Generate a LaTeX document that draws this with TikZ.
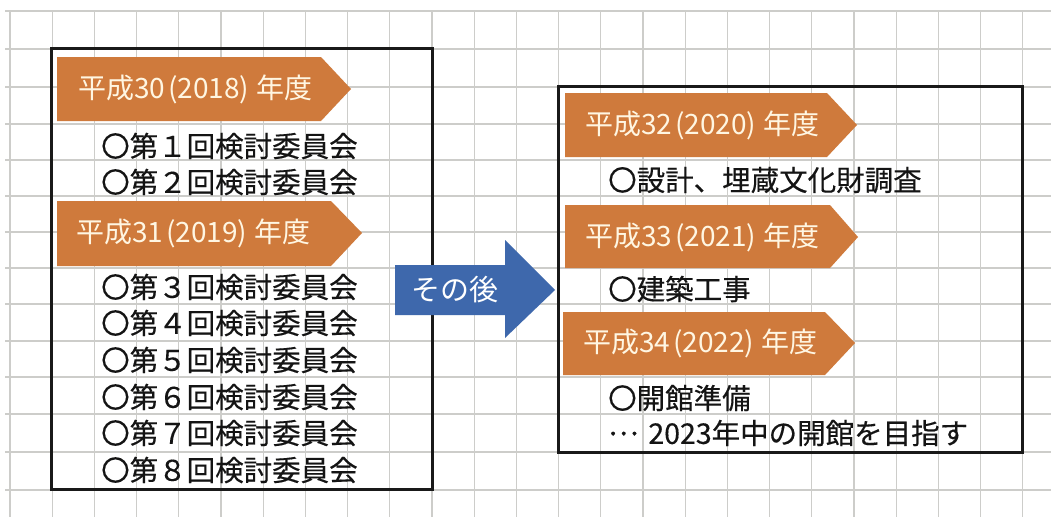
\documentclass[tikz,border=0pt]{standalone}
\usepackage{fontspec}
\setmainfont{Noto Sans CJK JP}
\newfontfamily\itemfont[FakeBold=0.35]{Noto Sans CJK JP}
\definecolor{gridgray}{RGB}{205,205,202}
\definecolor{frameblack}{RGB}{25,25,25}
\definecolor{bannerorange}{RGB}{207,122,60}
\definecolor{bannertxt}{RGB}{255,246,226}
\definecolor{textblack}{RGB}{20,20,20}
\definecolor{arrowblue}{RGB}{62,104,172}
\newcommand{\yr}[2]{平成#1\hspace{3pt}(#2)\hspace{7pt}年度}
\begin{document}
\begin{tikzpicture}[x=1pt,y=-1pt,
  gridline/.style={draw=gridgray, line width=1.3pt},
  framebox/.style={draw=frameblack, line width=3pt},
  banner/.style={fill=bannerorange, draw=none},
  bannertext/.style={anchor=west, inner sep=0pt, text=bannertxt, font=\fontsize{28}{28}\selectfont},
  item/.style={anchor=west, inner sep=0pt, text=textblack, font=\itemfont\fontsize{28.5}{28.5}\selectfont},
  bigarrow/.style={fill=arrowblue, draw=none},
  arrowtext/.style={inner sep=0pt, text=white, font=\fontsize{29}{29}\selectfont}
]
\useasboundingbox (0,0) rectangle (1051,517);
\fill[white] (0,0) rectangle (1051,517);
% grid
\foreach \k in {0,...,24} \draw[gridline] ({10+42.2*\k},11) -- ({10+42.2*\k},517);
\foreach \yy in {11,49,87,124,160,196,232,268,304,341,377,414,452,490} \draw[gridline] (5,\yy) -- (1051,\yy);
% frames
\draw[framebox] (51,48) rectangle (432,489);
\draw[framebox] (558,86) rectangle (1022,452);
% banners left
\fill[banner] (57,57) -- (321,57) -- (351,89) -- (321,121) -- (57,121) -- cycle;
\node[bannertext] (b1) at (78,89) {\yr{30}{2018}};
\fill[banner] (57,201) -- (331,201) -- (362,233) -- (331,266) -- (57,266) -- cycle;
\node[bannertext] (b2) at (76,233) {\yr{31}{2019}};
% items left
\node[item] (i1) at (101,146) {〇第１回検討委員会};
\node[item] (i2) at (101,182) {〇第２回検討委員会};
\node[item] (i3) at (101,287) {〇第３回検討委員会};
\node[item] (i4) at (101,323) {〇第４回検討委員会};
\node[item] (i5) at (101,360) {〇第５回検討委員会};
\node[item] (i6) at (101,397) {〇第６回検討委員会};
\node[item] (i7) at (101,433) {〇第７回検討委員会};
\node[item] (i8) at (101,470) {〇第８回検討委員会};
% banners right
\fill[banner] (565,93) -- (827,93) -- (857,125) -- (827,157) -- (565,157) -- cycle;
\node[bannertext] (b3) at (585,125) {\yr{32}{2020}};
\fill[banner] (565,205) -- (830,205) -- (858,237) -- (830,268) -- (565,268) -- cycle;
\node[bannertext] (b4) at (585,237) {\yr{33}{2021}};
\fill[banner] (563,312) -- (825,312) -- (855,343) -- (825,375) -- (563,375) -- cycle;
\node[bannertext] (b5) at (583,343) {\yr{34}{2022}};
% items right
\node[item] (r1) at (608,180) {〇設計、埋蔵文化財調査};
\node[item] (r2) at (608,289) {〇建築工事};
\node[item] (r3) at (608,398) {〇開館準備};
\node[item] (r4) at (608,433) {\raisebox{0.3em}{…}\hspace{10pt}2023年中の開館を目指す};
% arrow
\fill[bigarrow] (395,265) -- (505,265) -- (505,240) -- (555,290) -- (505,338) -- (505,315) -- (395,315) -- cycle;
\node[arrowtext] (after) at (455,290) {その後};
\end{tikzpicture}
\end{document}
